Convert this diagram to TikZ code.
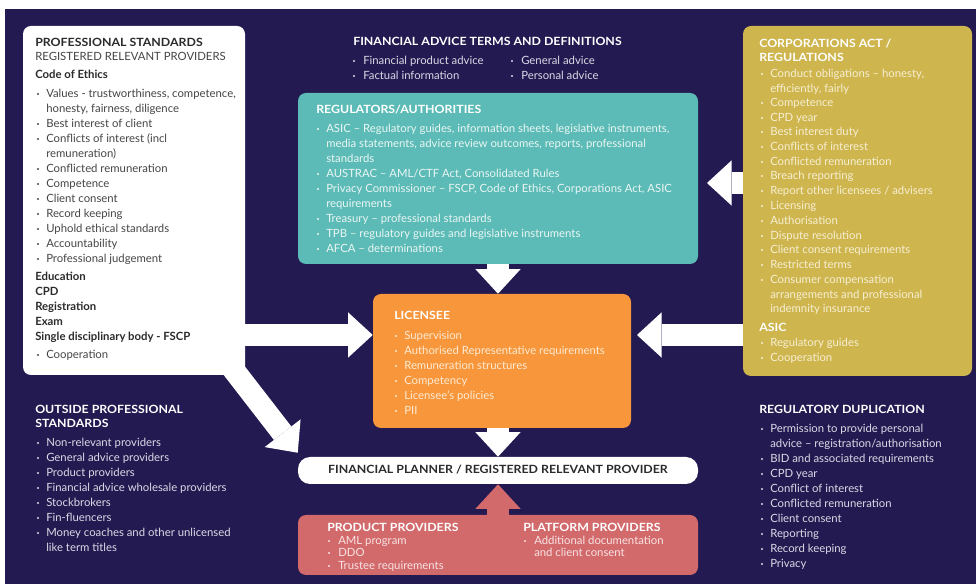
\documentclass[tikz,border=0pt]{standalone}
\usepackage{fontspec}
\setmainfont{Lato}
\newfontfamily\headfont{Lato}[FakeStretch=1.09]
\usetikzlibrary{positioning,arrows.meta,fit}

\definecolor{navy}{HTML}{221A51}
\definecolor{regteal}{HTML}{5CBBB6}
\definecolor{licorange}{HTML}{F7963A}
\definecolor{corpgold}{HTML}{CFB54E}
\definecolor{prodred}{HTML}{D2696B}
\definecolor{inkdark}{HTML}{2B2B2B}
\definecolor{inkgrey}{HTML}{454545}
\definecolor{paletext}{HTML}{DCDAE6}
\definecolor{palegold}{HTML}{F6EFD3}
\definecolor{paleteal}{HTML}{EAF6F5}
\definecolor{paleorange}{HTML}{FDEBD6}
\definecolor{palered}{HTML}{F8E3E3}

\begin{document}
\begin{tikzpicture}[x=0.75pt, y=-0.75pt, font=\fontsize{8.5}{10}\selectfont,
    panel/.style={rounded corners=6pt, inner sep=0pt},
    txt/.style={anchor=west, inner sep=0pt, text height=6.3pt, text depth=1.7pt},
    head/.style={txt, font=\headfont\bfseries\fontsize{8.5}{10}\selectfont},
    sub/.style={txt, font=\bfseries\fontsize{8.5}{10}\selectfont},
    blockarrow/.style={line width=16.5pt, draw=white, -{Triangle[length=18.5pt, width=34pt, line width=0pt]}}]
    % page and background
    \useasboundingbox (0,0) rectangle (976,584);
    \fill[white] (0,0) rectangle (976,584);
    \fill[navy] (5,9) rectangle (976,584);

    % panels
    \node[panel, fill=white, fit={(23,26) (245,375)}] (prof) {};
    \node[panel, fill=regteal, fit={(298,93) (698,264)}] (reg) {};
    \node[panel, fill=licorange, fit={(373,294) (631,428)}] (lic) {};
    \node[panel, fill=white, rounded corners=9pt, fit={(298,457) (698,484)}] (fp) {};
    \node[panel, fill=prodred, fit={(298,515) (698,575)}] (prod) {};
    \node[panel, fill=corpgold, fit={(743,26) (972,376)}] (corp) {};

    % block arrows
    \coordinate (d0) at (226,360);
    \coordinate (t1) at (707,183);
    \coordinate (t2) at (637,335);
    \draw[blockarrow] (prof.east |- 0,335) -- (lic.west |- 0,335);
    \draw[blockarrow] (d0) -- ([yshift=3pt]fp.north west);
    \draw[blockarrow] (reg.south) -- (reg.south |- lic.north);
    \draw[blockarrow] (fp.north |- lic.south) -- (fp.north);
    \draw[blockarrow] (corp.west |- t1) -- (t1);
    \draw[blockarrow] (corp.west |- t2) -- (t2);
    \draw[blockarrow, draw=prodred] (prod.north) -- (fp.south);

    % professional standards
    \node[head, text=inkdark] (ps-title) at (35,43) {PROFESSIONAL STANDARDS};
    \node[txt, text=inkgrey] (ps-sub) at (35,57) {REGISTERED RELEVANT PROVIDERS};
    \foreach \y/\s in {75/Code of Ethics, 277/Education, 292/CPD, 307/Registration, 322/Exam, 337/Single disciplinary body - FSCP}
        \node[sub, text=inkdark] (ps-h\y) at (35,\y) {\s};
    \foreach \y/\s/\k in {94/{Values - trustworthiness, competence,}/1, 109/{honesty, fairness, diligence}/0,
        124/Best interest of client/1, 139/Conflicts of interest (incl/1, 154/remuneration)/0,
        169/Conflicted remuneration/1, 184/Competence/1, 199/Client consent/1, 214/Record keeping/1,
        229/Uphold ethical standards/1, 244/Accountability/1, 259/Professional judgement/1, 355/Cooperation/1}{
        \node[txt, text=inkgrey] (ps-\y) at (46,\y) {\s};
        \ifnum\k=1 \fill[inkgrey] (38,\y) circle (1.2);\fi
    }

    % outside professional standards
    \node[head, text=white] (ops-title) at (35,410) {OUTSIDE PROFESSIONAL};
    \node[head, text=white] (ops-title2) at (35,424) {STANDARDS};
    \foreach \y/\s/\k in {443/Non-relevant providers/1, 458/General advice providers/1, 473/Product providers/1,
        488/Financial advice wholesale providers/1, 503/Stockbrokers/1, 518/Fin-fluencers/1,
        533/Money coaches and other unlicensed/1, 548/like term titles/0}{
        \node[txt, text=paletext] (ops-\y) at (46,\y) {\s};
        \ifnum\k=1 \fill[paletext] (38,\y) circle (1.2);\fi
    }

    % terms and definitions
    \node[head, text=white] (fa-title) at (353,42) {FINANCIAL ADVICE TERMS AND DEFINITIONS};
    \foreach \x/\y/\s in {363/61/Financial product advice, 363/76/Factual information, 521/61/General advice, 521/76/Personal advice}{
        \node[txt, text=paletext] (fa-\x-\y) at (\x,\y) {\s};
        \fill[paletext] (\x-9,\y) circle (1.2);
    }

    % regulators
    \node[head, text=white] (reg-title) at (316,110) {REGULATORS/AUTHORITIES};
    \foreach \y/\s/\k in {129/{ASIC – Regulatory guides, information sheets, legislative instruments,}/1,
        144/{media statements, advice review outcomes, reports, professional}/0, 159/standards/0,
        174/{AUSTRAC – AML/CTF Act, Consolidated Rules}/1,
        189/{Privacy Commissioner – FSCP, Code of Ethics, Corporations Act, ASIC}/1, 204/requirements/0,
        219/{Treasury – professional standards}/1, 234/{TPB – regulatory guides and legislative instruments}/1,
        249/{AFCA – determinations}/1}{
        \node[txt, text=paleteal] (reg-\y) at (326,\y) {\s};
        \ifnum\k=1 \fill[paleteal] (318,\y) circle (1.2);\fi
    }

    % licensee
    \node[head, text=white] (lic-title) at (394,316) {LICENSEE};
    \foreach \y/\s in {336/Supervision, 351/Authorised Representative requirements, 366/Remuneration structures,
        381/Competency, 396/Licensee’s policies, 411/PII}{
        \node[txt, text=paleorange] (lic-\y) at (404,\y) {\s};
        \fill[paleorange] (396,\y) circle (1.2);
    }

    % financial planner
    \node[head, anchor=center, text=inkdark] (fp-text) at (fp.center) {FINANCIAL PLANNER / REGISTERED RELEVANT PROVIDER};

    % product and platform providers
    \node[head, text=white] (prod-title) at (327,528) {PRODUCT PROVIDERS};
    \node[head, text=white] (plat-title) at (523,528) {PLATFORM PROVIDERS};
    \foreach \x/\y/\s/\k in {338/541/AML program/1, 338/553/DDO/1, 338/566/Trustee requirements/1,
        534/541/Additional documentation/1, 534/553/and client consent/0}{
        \node[txt, text=palered] (pp-\x-\y) at (\x,\y) {\s};
        \ifnum\k=1 \fill[palered] (\x-9,\y) circle (1.2);\fi
    }

    % corporations act
    \node[head, text=white] (ca-title) at (759,44) {CORPORATIONS ACT /};
    \node[head, text=white] (ca-title2) at (759,58) {REGULATIONS};
    \node[head, text=white] (ca-asic) at (759,328) {ASIC};
    \foreach \y/\s/\k in {74/{Conduct obligations – honesty,}/1, 89/{efficiently, fairly}/0, 103/Competence/1,
        118/CPD year/1, 132/Best interest duty/1, 147/Conflicts of interest/1, 162/Conflicted remuneration/1,
        176/Breach reporting/1, 191/{Report other licensees / advisers}/1, 206/Licensing/1, 221/Authorisation/1,
        236/Dispute resolution/1, 250/Client consent requirements/1, 265/Restricted terms/1,
        280/Consumer compensation/1, 295/arrangements and professional/0, 309/indemnity insurance/0,
        343/Regulatory guides/1, 358/Cooperation/1}{
        \node[txt, text=palegold] (ca-\y) at (770,\y) {\s};
        \ifnum\k=1 \fill[palegold] (762,\y) circle (1.2);\fi
    }

    % regulatory duplication
    \node[head, text=white] (rd-title) at (759,410) {REGULATORY DUPLICATION};
    \foreach \y/\s/\k in {429/Permission to provide personal/1, 444/{advice – registration/authorisation}/0,
        459/BID and associated requirements/1, 474/CPD year/1, 489/Conflict of interest/1,
        504/Conflicted remuneration/1, 519/Client consent/1, 534/Reporting/1, 549/Record keeping/1, 564/Privacy/1}{
        \node[txt, text=paletext] (rd-\y) at (770,\y) {\s};
        \ifnum\k=1 \fill[paletext] (762,\y) circle (1.2);\fi
    }
\end{tikzpicture}
\end{document}
